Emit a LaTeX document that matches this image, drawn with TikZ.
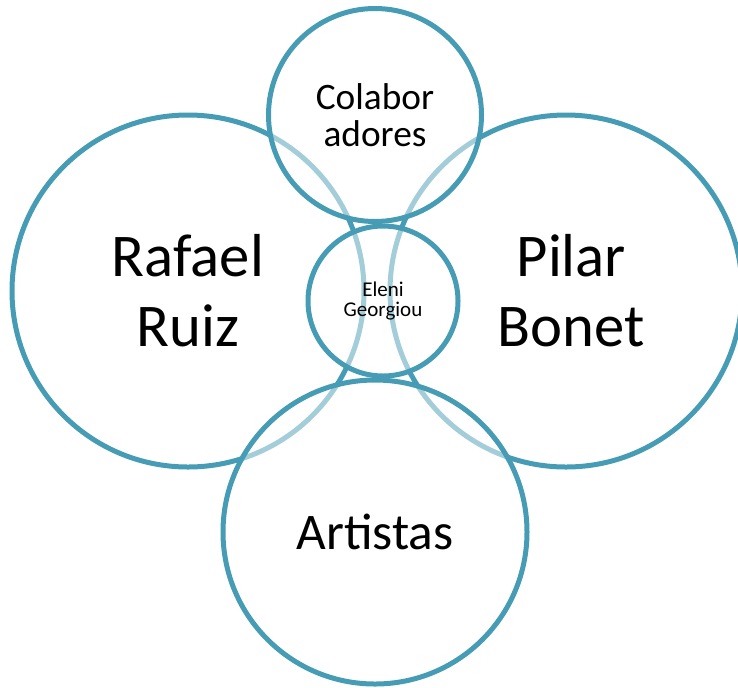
\documentclass[tikz,border=0pt]{standalone}
\usepackage{fontspec}
\setmainfont{Carlito}
\usepackage{xcolor}
\usepackage{tikz}
\usetikzlibrary{positioning}
\definecolor{ringblue}{HTML}{469CB4}

\begin{document}
\begin{tikzpicture}[x=0.75pt, y=-0.75pt,
    ring/.style={circle, draw=ringblue, line width=3.75pt, fill=white, fill opacity=0.5, text opacity=1, align=center, inner sep=0pt}]
    \useasboundingbox (0,0) rectangle (738,687);
    % the two large circles first, the others lie over them
    \node[ring, minimum size=264pt, font=\fontsize{45.5}{52.5}\selectfont] (rafael) at (188,291) {Rafael\\Ruiz};
    \node[ring, minimum size=264pt, font=\fontsize{45.5}{52.5}\selectfont] (pilar) at (566,291) {\hspace*{8pt}Pilar\\\hspace*{8pt}Bonet};
    \node[ring, minimum size=159.75pt, font=\fontsize{28}{27.75}\selectfont] (colab) at (375,115) {Colabor\\adores};
    \node[ring, minimum size=112.5pt, font=\fontsize{15.75}{15}\selectfont] (eleni) at (383,301) {Eleni\\Georgiou};
    \node[ring, minimum size=228pt, font=\fontsize{38.5}{45}\selectfont] (artistas) at (375,532) {Artistas};
\end{tikzpicture}
\end{document}
